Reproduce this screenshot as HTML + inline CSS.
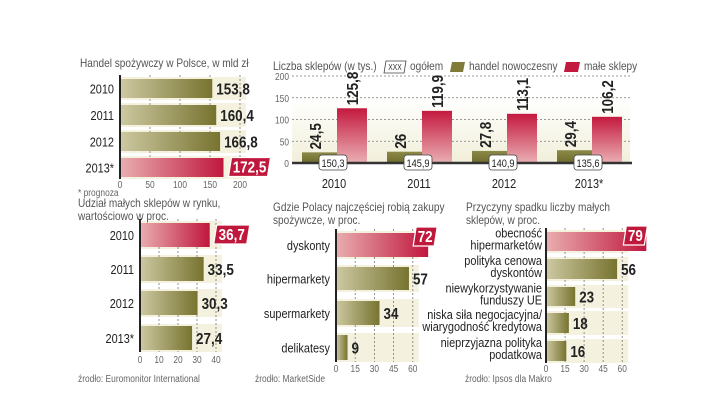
<!DOCTYPE html>
<html><head><meta charset="utf-8">
<style>
html,body{margin:0;padding:0;background:#fff;}
svg{display:block;font-family:"Liberation Sans",sans-serif;}
.t{fill:#555;font-size:12px;}
.tk{fill:#666;font-size:10px;}
.cat{fill:#222;font-size:13px;}
.val{fill:#222;font-size:16px;font-weight:bold;}
</style></head>
<body>
<svg id="c" width="720" height="405" viewBox="0 0 720 405" xmlns="http://www.w3.org/2000/svg">
<defs>
<linearGradient id="ol" x1="0" x2="1" y1="0" y2="0"><stop offset="0" stop-color="#cdc9a2"/><stop offset="1" stop-color="#77732f"/></linearGradient>
<linearGradient id="rd" x1="0" x2="1" y1="0" y2="0"><stop offset="0" stop-color="#e9aeb0"/><stop offset="1" stop-color="#c0173d"/></linearGradient>
<linearGradient id="olv" x1="0" x2="0" y1="0" y2="1"><stop offset="0" stop-color="#8c8a48"/><stop offset="1" stop-color="#6e6b2c"/></linearGradient>
<linearGradient id="rdv" x1="0" x2="0" y1="0" y2="1"><stop offset="0" stop-color="#c4193f"/><stop offset="1" stop-color="#eab0b4"/></linearGradient>
<linearGradient id="bg" x1="0" x2="0" y1="0" y2="1"><stop offset="0" stop-color="#fff"/><stop offset="1" stop-color="#f1efd9"/></linearGradient>
</defs>
<g id="root"></g>
</svg>
<script>
// Panel 1: Handel spożywczy
const p1Cats = ["2010","2011","2012","2013*"];
const p1Vals = [153.8,160.4,166.8,172.5];
const p1Labels = ["153,8","160,4","166,8","172,5"];
const p1Ticks = [0,50,100,150,200];
// Panel 2: Liczba sklepów
const p2Cats = ["2010","2011","2012","2013*"];
const p2Modern = [24.5,26,27.8,29.4];
const p2ModernLbl = ["24,5","26","27,8","29,4"];
const p2Small = [125.8,119.9,113.1,106.2];
const p2SmallLbl = ["125,8","119,9","113,1","106,2"];
const p2Total = ["150,3","145,9","140,9","135,6"];
const p2Ticks = [0,50,100,150,200];
// Panel 3: Udział małych sklepów
const p3Cats = ["2010","2011","2012","2013*"];
const p3Vals = [36.7,33.5,30.3,27.4];
const p3Labels = ["36,7","33,5","30,3","27,4"];
const p3Ticks = [0,10,20,30,40];
// Panel 4: Gdzie Polacy robią zakupy
const p4Cats = ["dyskonty","hipermarkety","supermarkety","delikatesy"];
const p4Vals = [72,57,34,9];
const p4Ticks = [0,15,30,45,60];
// Panel 5: Przyczyny spadku
const p5Cats = [["obecność","hipermarketów"],["polityka cenowa","dyskontów"],["niewykorzystywanie","funduszy UE"],["niska siła negocjacyjna/","wiarygodność kredytowa"],["nieprzyjazna polityka","podatkowa"]];
const p5Vals = [79,56,23,18,16];
const p5Ticks = [0,15,30,45,60];

const NS="http://www.w3.org/2000/svg";
const root=document.getElementById('root');
function el(tag,attrs,parent,text){const e=document.createElementNS(NS,tag);for(const k in attrs)e.setAttribute(k,attrs[k]);if(text!==undefined)e.textContent=text;(parent||root).appendChild(e);return e;}

function hbar(o){
  const g=el('g',{});
  
  
  const sx=v=>o.x0+v*o.scale;
  const maxT=o.ticks[o.ticks.length-1];
  o.rows.forEach((r,i)=>{
    const b=el('rect',{x:o.x0,y:r[0]-2,width:sx(maxT)-o.x0+6,height:r[1]-r[0]+4,fill:'#f4f2df'},g);
    
    
  });
  o.ticks.forEach(t=>{
    if(t>0){const l=el('line',{x1:sx(t),x2:sx(t),y1:o.rows[0][0]-4,y2:o.rows[o.rows.length-1][1]+2,stroke:'#777','stroke-width':0.8,'stroke-dasharray':'2,2'},g);
    
    }
    const tx=el('text',{x:sx(t),y:o.tickY,'text-anchor':'middle',class:'tk'},g,String(t));
    
    
  });
  o.vals.forEach((v,i)=>{
    const r=o.rows[i];const hi=i===o.hi;
    const b=el('rect',{x:o.x0,y:r[0],width:v*o.scale,height:r[1]-r[0],fill:hi?'url(#rd)':'url(#ol)'},g);
    
    
    const cy=(r[0]+r[1])/2;
    const cat=o.cats[i];
    if(Array.isArray(cat)){
      cat.forEach((c,j)=>{const t=el('text',{x:o.x0-4,y:cy-1+j*12-(cat.length-1)*3,'text-anchor':'end',class:'cat'},g,c);
      
      });
    } else {
      const t=el('text',{x:o.x0-6,y:cy+5,'text-anchor':'end',class:'cat'},g,cat);
      
      
    }
    const lbl=o.labels[i];
    if(hi){
      const w=lbl.length*6+12;const bx=sx(v)+o.hiDx, by=o.hiUp?r[0]-6:cy-10;
      const p=el('path',{d:`M${bx+3},${by} L${bx+w},${by} L${bx+w-3},${by+19} L${bx},${by+19} Z`,fill:'#c0183c',stroke:'#fff','stroke-width':1.2},g);
      
      
      const t=el('text',{x:bx+w/2,y:by+15,'text-anchor':'middle',fill:'#fff','font-size':16,'font-weight':'bold'},g,lbl);
      
      
    } else {
      const t=el('text',{x:sx(v)+4,y:cy+6,class:'val'},g,lbl);
      
      
    }
  });
  const ax=el('line',{x1:o.x0,x2:o.x0,y1:o.rows[0][0]-4,y2:o.rows[o.rows.length-1][1]+2,stroke:'#222','stroke-width':2},g);
  
  
  o.title.forEach((s,j)=>{const t=el('text',{x:o.tx,y:o.ty+j*13,class:'t'},g,s);
    
    });
  if(o.src){const t=el('text',{x:o.tx2||o.tx,y:382,class:'tk','font-size':10},g,o.src);
    
    }
}

hbar({name:'chart-food-trade',x0:120,scale:0.6,rows:[[79,98],[105,125],[132,151],[158,177]],ticks:p1Ticks,tickY:188,
  vals:p1Vals,labels:p1Labels,cats:p1Cats,hi:3,hiDx:5,title:['Handel spożywczy w Polsce, w mld zł'],tx:80,ty:67});
const pr=el('text',{x:78,y:196,class:'tk'},root,'* prognoza');



hbar({name:'chart-small-share',x0:140,scale:1.9,rows:[[223,247],[257,281],[291,315],[326,350]],ticks:p3Ticks,tickY:363,
  vals:p3Vals,labels:p3Labels,cats:p3Cats,hi:0,hiDx:4,title:['Udział małych sklepów w rynku,','wartościowo w proc.'],tx:78,ty:207,src:'źrodło: Euromonitor International'});

hbar({name:'chart-where-shop',x0:336,scale:1.28,rows:[[233,257],[267,290],[301,325],[335,360]],ticks:p4Ticks,tickY:372,
  vals:p4Vals,labels:p4Vals.map(String),cats:p4Cats,hi:0,hiDx:-15,hiUp:true,title:['Gdzie Polacy najczęściej robią zakupy','spożywcze, w proc.'],tx:273,ty:211,src:'źrodło: MarketSide',tx2:255});

hbar({name:'chart-decline-reasons',x0:546,scale:1.27,rows:[[232,251],[259,279],[287,306],[313,333],[341,361]],ticks:p5Ticks,tickY:372,
  vals:p5Vals,labels:p5Vals.map(String),cats:p5Cats,hi:0,hiDx:-23,hiUp:true,title:['Przyczyny spadku liczby małych','sklepów, w proc.'],tx:466,ty:211,src:'źrodło: Ipsos dla Makro',tx2:465});

// Panel 2 vertical grouped bars
(function(){
  const g=el('g',{});
  
  
  const y0=163, sc=0.435, gx0=302, gstep=85;
  const sy=v=>y0-v*sc;
  const bgr=el('rect',{x:292,y:sy(150),width:338,height:y0-sy(150),fill:'url(#bg)'},g);
  
  
  p2Ticks.forEach(t=>{
    if(t>0){const l=el('line',{x1:292,x2:630,y1:sy(t),y2:sy(t),stroke:'#777','stroke-width':0.8,'stroke-dasharray':'2,2'},g);
    
    }
    const tx=el('text',{x:289,y:sy(t)+4,'text-anchor':'end',class:'tk'},g,String(t));
    
    
  });
  p2Cats.forEach((c,i)=>{
    const x=gx0+i*gstep;
    const b1=el('rect',{x:x,y:sy(p2Modern[i]),width:36,height:p2Modern[i]*sc,fill:'url(#olv)'},g);
    
    
    const b2=el('rect',{x:x+35,y:sy(p2Small[i]),width:30,height:p2Small[i]*sc,fill:'url(#rdv)'},g);
    
    
    const l1=el('text',{x:0,y:0,class:'val','font-size':15,transform:`translate(${x+19},${sy(p2Modern[i])-3}) rotate(-90)`},g,p2ModernLbl[i]);
    
    
    const l2=el('text',{x:0,y:0,class:'val','font-size':15,transform:`translate(${x+56},${sy(p2Small[i])-3}) rotate(-90)`},g,p2SmallLbl[i]);
    
    
    const yl=el('text',{x:x+32,y:188,'text-anchor':'middle',class:'cat'},g,c);
    
    
  });
  const ax=el('line',{x1:292,x2:632,y1:y0,y2:y0,stroke:'#333','stroke-width':2.5},g);
  
  
  p2Cats.forEach((c,i)=>{
    const x=gx0+i*gstep+31;
    const r=el('rect',{x:x-14,y:y0-8,width:28,height:15,rx:3,fill:'#fff',stroke:'#444','stroke-width':0.8},g);
    
    
    const t=el('text',{x:x,y:y0+4,'text-anchor':'middle',fill:'#222','font-size':11},g,p2Total[i]);
    
    
  });
  const tt=el('text',{x:273,y:70,class:'t'},g,'Liczba sklepów (w tys.)');
  
  
  const lb=el('path',{d:'M386,61 L406,61 L404,73 L384,73 Z',fill:'#fff',stroke:'#444','stroke-width':0.8},g);
  
  
  const lbt=el('text',{x:395,y:70,'text-anchor':'middle','font-size':8,fill:'#333'},g,'XXX');
  
  
  const lt=el('text',{x:410,y:70,class:'t'},g,'ogółem');
  
  
  const s1=el('path',{d:'M452,62 L465,62 L463,72 L450,72 Z',fill:'#7f7c3a'},g);
  
  
  const t1=el('text',{x:469,y:70,class:'t'},g,'handel nowoczesny');
  
  
  const s2=el('path',{d:'M566,62 L580,62 L578,72 L564,72 Z',fill:'#c3193f'},g);
  
  
  const t2=el('text',{x:584,y:70,class:'t'},g,'małe sklepy');
  
  
})();

// condense all text to mimic narrow font
document.querySelectorAll('#root text').forEach(t=>{
  const w=t.getComputedTextLength();
  if(w>0){t.setAttribute('textLength',(w*0.84).toFixed(1));t.setAttribute('lengthAdjust','spacingAndGlyphs');}
});
</script>
</body></html>
